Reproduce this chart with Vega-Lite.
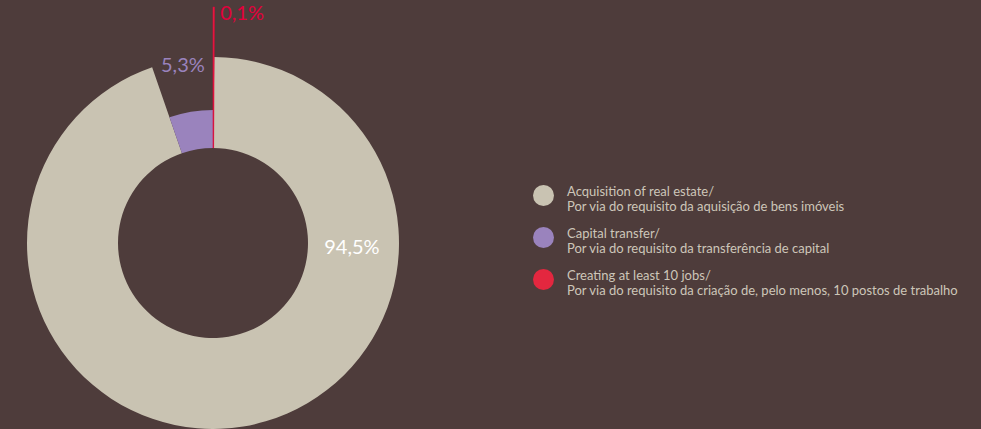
{
  "$schema": "https://vega.github.io/schema/vega-lite/v6.json",
  "width": 426,
  "height": 417,
  "autosize": "none",
  "padding": {"left": 0, "top": 12, "right": 555, "bottom": 0},
  "background": "#4e3c3b",
  "config": {"view": {"stroke": null}, "font": "Lato"},
  "title": {
    "text": "Investimento Golden Visa",
    "anchor": "start",
    "frame": "group",
    "orient": "top",
    "dx": 535,
    "offset": 0,
    "baseline": "alphabetic",
    "color": "#e2003c",
    "fontSize": 28,
    "fontWeight": 600,
    "font": "Lato"
  },
  "data": {
    "values": [
      {"category": "Creating at least 10 jobs/Por via do requisito da criação de, pelo menos, 10 postos de trabalho", "value": 0.1, "label": "0,1%", "order": 1},
      {"category": "Acquisition of real estate/Por via do requisito da aquisição de bens imóveis", "value": 94.5, "label": "94,5%", "order": 2},
      {"category": "Capital transfer/Por via do requisito da transferência de capital", "value": 5.3, "label": "5,3%", "order": 3}
    ]
  },
  "transform": [
    {"stack": "value", "groupby": [], "sort": [{"field": "order", "order": "ascending"}], "as": ["v0", "v1"]}
  ],
  "layer": [
    {
      "transform": [{"filter": "datum.order == 2"}],
      "mark": {"type": "arc", "radius": 186, "radius2": 95, "yOffset": 22.5},
      "encoding": {
        "theta": {"field": "v0", "type": "quantitative", "scale": {"domain": [0, 99.9]}},
        "theta2": {"field": "v1"},
        "color": {"field": "category", "type": "nominal"}
      }
    },
    {
      "transform": [{"filter": "datum.order == 3"}],
      "mark": {"type": "arc", "radius": 133, "radius2": 95, "yOffset": 22.5},
      "encoding": {
        "theta": {"field": "v0", "type": "quantitative", "scale": {"domain": [0, 99.9]}},
        "theta2": {"field": "v1"},
        "color": {"field": "category", "type": "nominal"}
      }
    },
    {
      "transform": [{"filter": "datum.order == 1"}],
      "mark": {"type": "arc", "radius": 236, "radius2": 95, "yOffset": 22.5, "stroke": "#e2003c", "strokeWidth": 0.6},
      "encoding": {
        "theta": {"field": "v0", "type": "quantitative", "scale": {"domain": [0, 99.9]}},
        "theta2": {"field": "v1"},
        "color": {
          "field": "category",
          "type": "nominal",
          "scale": {
            "domain": [
              "Acquisition of real estate/Por via do requisito da aquisição de bens imóveis",
              "Capital transfer/Por via do requisito da transferência de capital",
              "Creating at least 10 jobs/Por via do requisito da criação de, pelo menos, 10 postos de trabalho"
            ],
            "range": ["#c9c3b2", "#9a83bd", "#e3273f"]
          },
          "legend": {
            "orient": "none",
            "legendX": 533,
            "legendY": 173,
            "title": null,
            "symbolType": "circle",
            "symbolSize": 441,
            "symbolStrokeWidth": 0,
            "symbolOpacity": 1,
            "labelColor": "#cdc6b9",
            "labelFont": "Lato",
            "labelFontSize": 13,
            "labelLimit": 0,
            "labelOffset": 13,
            "labelBaseline": "alphabetic",
            "rowPadding": 13,
            "labelExpr": "[split(datum.label, '/')[0] + '/', split(datum.label, '/')[1]]"
          }
        }
      }
    },
    {
      "transform": [{"filter": "datum.order == 1"}],
      "mark": {"type": "text", "theta": 0.126, "radius": 231, "yOffset": 22.5, "fontSize": 20, "color": "#e2003c", "align": "center", "baseline": "middle", "font": "Lato"},
      "encoding": {"text": {"field": "label", "type": "nominal"}}
    },
    {
      "transform": [{"filter": "datum.order == 3"}],
      "mark": {"type": "text", "theta": -0.168, "radius": 180, "yOffset": 22.5, "fontSize": 20, "color": "#9a83bd", "align": "center", "baseline": "middle", "font": "Lato"},
      "encoding": {"text": {"field": "label", "type": "nominal"}}
    },
    {
      "transform": [{"filter": "datum.order == 2"}],
      "mark": {"type": "text", "theta": 1.604, "radius": 139, "yOffset": 22.5, "fontSize": 20, "color": "#ffffff", "align": "center", "baseline": "middle", "font": "Lato"},
      "encoding": {"text": {"field": "label", "type": "nominal"}}
    }
  ]
}
